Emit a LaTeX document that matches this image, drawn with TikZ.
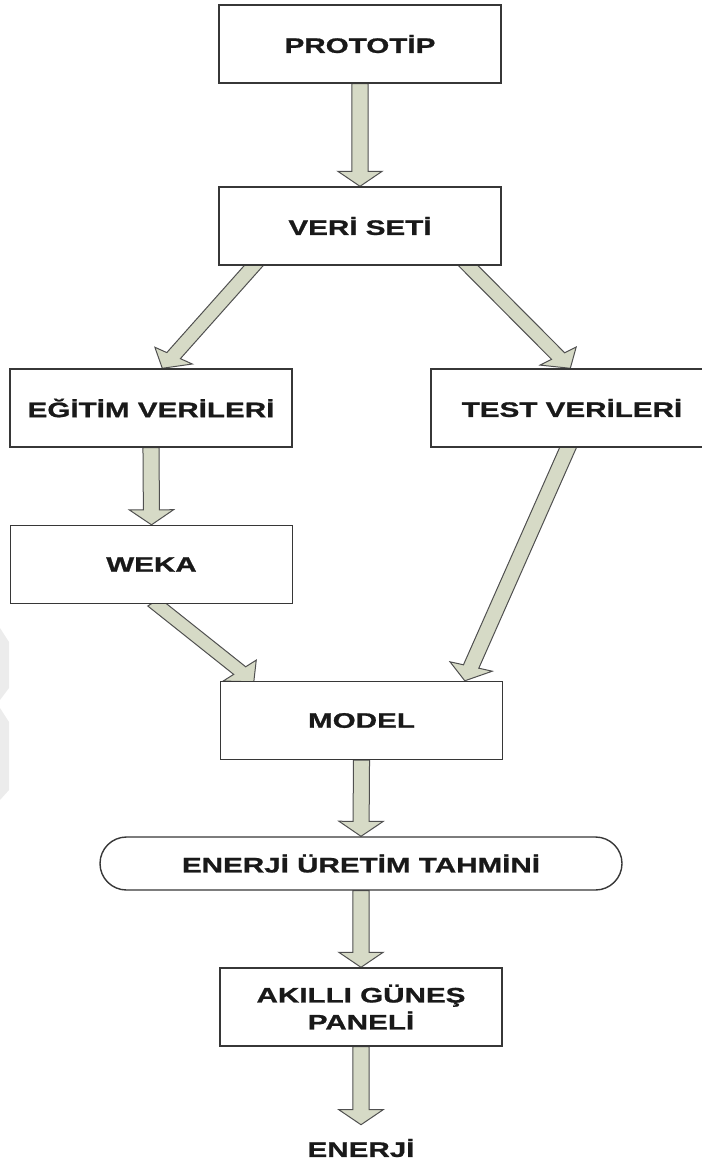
\documentclass[tikz,border=0pt]{standalone}
\usepackage{fontspec}
\setmainfont{Liberation Sans}[FakeStretch=1.41,FakeBold=1]
\usetikzlibrary{calc,backgrounds}

\definecolor{boxline}{RGB}{55,55,55}
\definecolor{arrowfill}{RGB}{214,218,198}
\definecolor{arrowline}{RGB}{80,80,80}
\definecolor{inktext}{RGB}{25,25,25}
\definecolor{faint}{RGB}{236,236,236}

% wide block arrow from one point to another; the shape is built
% in a frame squeezed by \arrowstretch horizontally, then stretched back
\newcommand\arrowstretch{1.41}
\newcommand\blockarrow[2]{%
  \path (#1) coordinate (ba-tail) (#2) coordinate (ba-tip);%
  \pgfpointanchor{ba-tail}{center}\pgfgetlastxy{\bax}{\bay}%
  \pgfpointanchor{ba-tip}{center}\pgfgetlastxy{\bbx}{\bby}%
  \pgfmathsetmacro\bdx{(\bbx-\bax)/\arrowstretch}%
  \pgfmathsetmacro\bdy{\bby-\bay}%
  \pgfmathsetmacro\blen{veclen(\bdx,\bdy)}%
  \pgfmathsetmacro\bux{\bdx/\blen*\arrowstretch}%
  \pgfmathsetmacro\buy{\bdy/\blen}%
  \pgfmathsetmacro\bnx{-\bdy/\blen*\arrowstretch}%
  \pgfmathsetmacro\bny{\bdx/\blen}%
  \pgfmathsetmacro\bw{5.7}\pgfmathsetmacro\bW{15.7}\pgfmathsetmacro\bL{15}%
  \pgfmathsetmacro\hx{\bbx-\bL*\bux}\pgfmathsetmacro\hy{\bby-\bL*\buy}%
  \filldraw[arrowbody]
    ({\bax+\bw*\bnx pt},{\bay+\bw*\bny pt}) --
    ({\hx+\bw*\bnx pt},{\hy+\bw*\bny pt}) --
    ({\hx+\bW*\bnx pt},{\hy+\bW*\bny pt}) --
    (ba-tip) --
    ({\hx-\bW*\bnx pt},{\hy-\bW*\bny pt}) --
    ({\hx-\bw*\bnx pt},{\hy-\bw*\bny pt}) --
    ({\bax-\bw*\bnx pt},{\bay-\bw*\bny pt}) -- cycle;
}

\tikzset{
  arrowbody/.style={fill=arrowfill, draw=arrowline, line width=1pt, line join=miter},
  stepbox/.style={draw=boxline, line width=1.4pt, fill=white, text=inktext,
    minimum width=282pt, minimum height=78pt, inner sep=0pt, align=center,
    font=\bfseries\fontsize{21}{27}\selectfont},
  stadium/.style={stepbox, minimum width=522pt, minimum height=53pt,
    rounded corners=26.5pt},
  plainlabel/.style={text=inktext, inner sep=0pt,
    font=\bfseries\fontsize{21}{27}\selectfont}
}

\begin{document}
\begin{tikzpicture}[x=1pt,y=-1pt]
\clip (0,0) rectangle (702,1163);

% flow steps
\path
  (360,44)    node[stepbox] (proto)  {PROTOT\.{I}P}
  (360,226)   node[stepbox] (veri)   {VER\.{I} SET\.{I}}
  (151,408)   node[stepbox] (egitim) {E\u{G}\.{I}T\.{I}M VER\.{I}LER\.{I}}
  (572,408)   node[stepbox] (test)   {TEST VER\.{I}LER\.{I}}
  (151.5,564.5) node[stepbox] (weka) {WEKA}
  (361.5,720.5) node[stepbox] (model) {MODEL}
  (361,863.5) node[stadium] (tahmin) {ENERJ\.{I} \"URET\.{I}M TAHM\.{I}N\.{I}}
  (361,1007)  node[stepbox] (akilli) {AKILLI G\"UNE\c{S}\\PANEL\.{I}}
  (361,1148)  node[plainlabel] (enerji) {ENERJ\.{I}};

% arrow end points
\coordinate (vsL) at ($(veri.south west)+(38,-3)$);
\coordinate (vsR) at ($(veri.south west)+(247,-3)$);
\coordinate (egT) at ($(egitim.north west)+(153,0)$);
\coordinate (teT) at ($(test.north west)+(140,0)$);
\coordinate (teB) at ($(test.south west)+(139,-3)$);
\coordinate (moR) at ($(model.north west)+(245,0)$);
\coordinate (weB) at ($(weka.south west)+(144,-2)$);
\coordinate (moL) at ($(model.north west)+(34,1)$);
\coordinate (enT) at ($(enerji.north)+(0,-14)$);

\begin{pgfonlayer}{background}
  % faint mark at the left margin
  \fill[faint] (0,628) -- (9,642) -- (9,688) -- (0,700) -- cycle;
  \fill[faint] (0,708) -- (9,722) -- (9,790) -- (0,800) -- cycle;
  % arrows, tucked under the boxes
  \blockarrow{proto.south}{veri.north}
  \blockarrow{vsL}{egT}
  \blockarrow{vsR}{teT}
  \blockarrow{egitim.south}{weka.north}
  \blockarrow{teB}{moR}
  \blockarrow{weB}{moL}
  \blockarrow{model.south}{tahmin.north}
  \blockarrow{tahmin.south}{akilli.north}
  \blockarrow{akilli.south}{enT}
\end{pgfonlayer}
\end{tikzpicture}
\end{document}
